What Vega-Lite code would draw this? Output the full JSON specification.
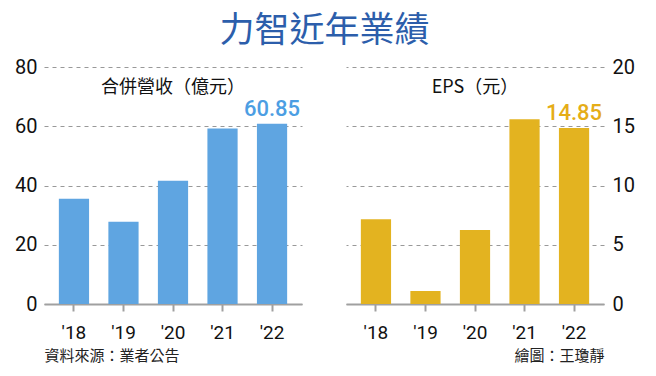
{
  "$schema": "https://vega.github.io/schema/vega-lite/v6.json",
  "background": "white",
  "padding": {"left": 14, "top": 14, "right": 14, "bottom": 6},
  "title": {
    "text": "力智近年業績",
    "anchor": "middle",
    "font": "Noto Sans CJK TC",
    "fontSize": 35,
    "fontWeight": "normal",
    "color": "#2c5eab",
    "offset": 8
  },
  "datasets": {
    "perf": [
      {"year": "'18", "rev": 35.5, "eps": 7.15},
      {"year": "'19", "rev": 27.8, "eps": 1.1},
      {"year": "'20", "rev": 41.6, "eps": 6.25},
      {"year": "'21", "rev": 59.2, "eps": 15.6},
      {"year": "'22", "rev": 60.85, "eps": 14.85}
    ]
  },
  "spacing": 44,
  "hconcat": [
    {
      "width": 258,
      "height": 237,
      "data": {"name": "perf"},
      "title": {
        "text": "合併營收（億元）",
        "anchor": "middle",
        "font": "Noto Sans CJK TC",
        "fontSize": 18,
        "fontWeight": "normal",
        "color": "#111",
        "offset": -40
      },
      "encoding": {
        "x": {
          "field": "year",
          "type": "nominal",
          "sort": null,
          "scale": {"paddingInner": 0.39, "paddingOuter": 0.3},
          "axis": {
            "title": "資料來源：業者公告",
            "titleAnchor": "start",
            "titleAlign": "left",
            "titleFont": "Noto Sans CJK TC",
            "titleFontSize": 15,
            "titleFontWeight": "normal",
            "titleColor": "#222",
            "titlePadding": 6,
            "labelAngle": 0,
            "labelFont": "Roboto",
            "labelFontSize": 19,
            "labelColor": "#111",
            "labelPadding": 12,
            "domainColor": "#a0a0a0",
            "domainWidth": 2,
            "tickColor": "#a0a0a0",
            "tickWidth": 2,
            "tickSize": 7,
            "grid": false
          }
        },
        "y": {
          "field": "rev",
          "type": "quantitative",
          "scale": {"domain": [0, 80]},
          "axis": {
            "title": null,
            "values": [0, 20, 40, 60, 80],
            "labelFont": "Roboto",
            "labelFontSize": 20,
            "labelColor": "#111",
            "labelPadding": 7,
            "domain": false,
            "ticks": false,
            "grid": true,
            "gridDash": [4, 4],
            "gridColor": "#999",
            "gridWidth": 1
          }
        }
      },
      "layer": [
        {"mark": {"type": "bar", "color": "#5fa5e1"}},
        {
          "transform": [{"filter": "datum.year == \"'22\""}],
          "mark": {
            "type": "text",
            "baseline": "bottom",
            "dy": -3,
            "font": "Roboto",
            "fontSize": 22,
            "fontWeight": 500,
            "color": "#4c9ee3"
          },
          "encoding": {"text": {"field": "rev", "type": "quantitative", "format": ".2f"}}
        }
      ]
    },
    {
      "width": 258,
      "height": 237,
      "data": {"name": "perf"},
      "title": {
        "text": "EPS（元）",
        "anchor": "middle",
        "font": "Noto Sans CJK TC",
        "fontSize": 18,
        "fontWeight": "normal",
        "color": "#111",
        "offset": -40
      },
      "encoding": {
        "x": {
          "field": "year",
          "type": "nominal",
          "sort": null,
          "scale": {"paddingInner": 0.39, "paddingOuter": 0.3},
          "axis": {
            "title": "繪圖：王瓊靜",
            "titleAnchor": "end",
            "titleAlign": "right",
            "titleFont": "Noto Sans CJK TC",
            "titleFontSize": 15,
            "titleFontWeight": "normal",
            "titleColor": "#222",
            "titlePadding": 6,
            "labelAngle": 0,
            "labelFont": "Roboto",
            "labelFontSize": 19,
            "labelColor": "#111",
            "labelPadding": 12,
            "domainColor": "#a0a0a0",
            "domainWidth": 2,
            "tickColor": "#a0a0a0",
            "tickWidth": 2,
            "tickSize": 7,
            "grid": false
          }
        },
        "y": {
          "field": "eps",
          "type": "quantitative",
          "scale": {"domain": [0, 20]},
          "axis": {
            "orient": "right",
            "title": null,
            "values": [0, 5, 10, 15, 20],
            "labelFont": "Roboto",
            "labelFontSize": 20,
            "labelColor": "#111",
            "labelPadding": 8,
            "domain": false,
            "ticks": false,
            "grid": true,
            "gridDash": [4, 4],
            "gridColor": "#999",
            "gridWidth": 1
          }
        }
      },
      "layer": [
        {"mark": {"type": "bar", "color": "#e3b320"}},
        {
          "transform": [{"filter": "datum.year == \"'22\""}],
          "mark": {
            "type": "text",
            "baseline": "bottom",
            "dy": -3,
            "font": "Roboto",
            "fontSize": 22,
            "fontWeight": 500,
            "color": "#e5ad17"
          },
          "encoding": {"text": {"field": "eps", "type": "quantitative", "format": ".2f"}}
        }
      ]
    }
  ],
  "config": {
    "view": {"stroke": null}
  }
}
